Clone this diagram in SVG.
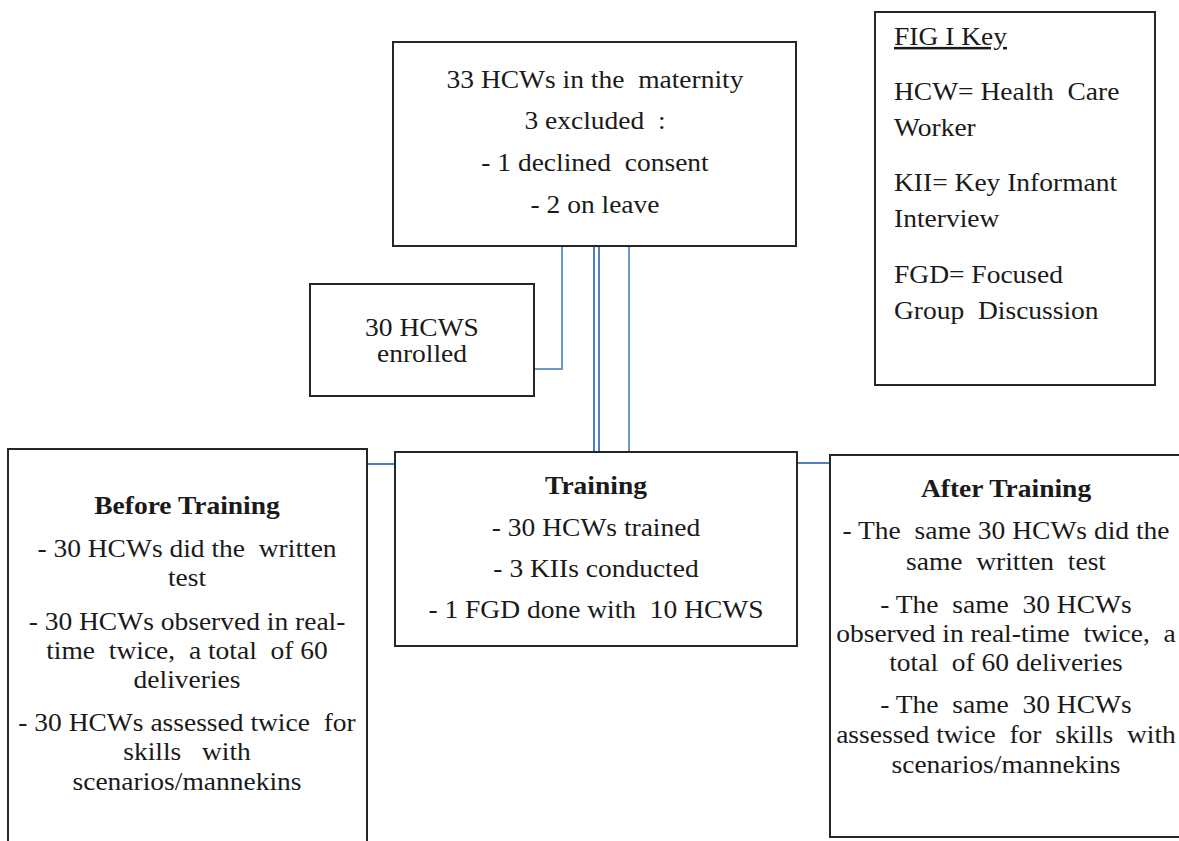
<svg xmlns="http://www.w3.org/2000/svg" width="1179" height="841" viewBox="0 0 1179 841">
<style>
.box{fill:#fff;stroke:#262626;stroke-width:2}
.con{fill:none;stroke:#6e98c8;stroke-width:2}
.con2{fill:none;stroke:#4f7fbd;stroke-width:2}
text{font-family:'Liberation Serif','Times New Roman',Tinos,'DejaVu Serif',serif;font-size:25px;fill:#1a1a1a;white-space:pre}
.c{text-anchor:middle}
.b{font-weight:bold}
.u{text-decoration:underline}
</style>
<rect width="1179" height="841" fill="#fff"/>
<g id="connectors">
<polyline class="con" points="562,246 562,369 534,369"/>
<line class="con2" x1="594" y1="246" x2="594" y2="452"/>
<line class="con2" x1="599" y1="246" x2="599" y2="452"/>
<line class="con" x1="629" y1="246" x2="629" y2="452"/>
<line class="con2" x1="367" y1="464" x2="395" y2="464"/>
<line class="con2" x1="797" y1="463" x2="830" y2="463"/>
</g>
<g id="node-start">
<rect class="box" x="393" y="42" width="403" height="204"/>
<g transform="translate(595 0) scale(1.1 1)">
<text class="c" x="0" y="88">33 HCWs in the  maternity</text>
<text class="c" x="0" y="129">3 excluded  :</text>
<text class="c" x="0" y="171">- 1 declined  consent</text>
<text class="c" x="0" y="213">- 2 on leave</text>
</g>
</g>
<g id="node-enrolled">
<rect class="box" x="310" y="284" width="224" height="112"/>
<g transform="translate(422 0) scale(1.1 1)">
<text class="c" x="0" y="336">30 HCWS</text>
<text class="c" x="0" y="362">enrolled</text>
</g>
</g>
<g id="node-before">
<rect class="box" x="8" y="449" width="359" height="400"/>
<g transform="translate(187 0) scale(1.1 1)">
<text class="c b" x="0" y="514">Before Training</text>
<text class="c" x="0" y="557">- 30 HCWs did the  written</text>
<text class="c" x="0" y="586">test</text>
<text class="c" x="0" y="630">- 30 HCWs observed in real-</text>
<text class="c" x="0" y="659">time  twice,  a total  of 60</text>
<text class="c" x="0" y="688">deliveries</text>
<text class="c" x="0" y="731">- 30 HCWs assessed twice  for</text>
<text class="c" x="0" y="760">skills   with</text>
<text class="c" x="0" y="790">scenarios/mannekins</text>
</g>
</g>
<g id="node-training">
<rect class="box" x="395" y="452" width="402" height="194"/>
<g transform="translate(596 0) scale(1.1 1)">
<text class="c b" x="0" y="494">Training</text>
<text class="c" x="0" y="536">- 30 HCWs trained</text>
<text class="c" x="0" y="577">- 3 KIIs conducted</text>
<text class="c" x="0" y="618">- 1 FGD done with  10 HCWS</text>
</g>
</g>
<g id="node-after">
<rect class="box" x="830" y="455" width="360" height="382"/>
<g transform="translate(1006 0) scale(1.1 1)">
<text class="c b" x="0" y="497">After Training</text>
<text class="c" x="0" y="539">- The  same 30 HCWs did the</text>
<text class="c" x="0" y="570">same  written  test</text>
<text class="c" x="0" y="613">- The  same  30 HCWs</text>
<text class="c" x="0" y="642">observed in real-time  twice,  a</text>
<text class="c" x="0" y="671">total  of 60 deliveries</text>
<text class="c" x="0" y="713">- The  same  30 HCWs</text>
<text class="c" x="0" y="743">assessed twice  for  skills  with</text>
<text class="c" x="0" y="773">scenarios/mannekins</text>
</g>
</g>
<g id="node-key">
<rect class="box" x="875" y="12" width="280" height="373"/>
<g transform="translate(894 0) scale(1.1 1)">
<text class="u" x="0" y="45">FIG I Key</text>
<text x="0" y="100">HCW= Health  Care</text>
<text x="0" y="136">Worker</text>
<text x="0" y="191">KII= Key Informant</text>
<text x="0" y="227">Interview</text>
<text x="0" y="283">FGD= Focused</text>
<text x="0" y="319">Group  Discussion</text>
</g>
</g>
</svg>
